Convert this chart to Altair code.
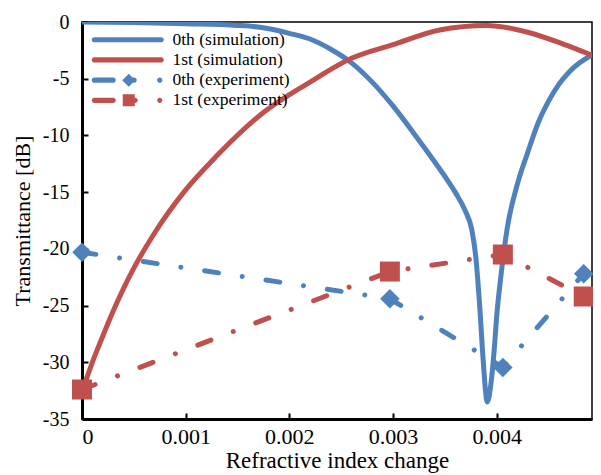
import altair as alt
import pandas as pd

# ---------------- data ----------------
series = ["0th (simulation)", "1st (simulation)", "0th (experiment)", "1st (experiment)"]

sim0_x = [0, 0.0005, 0.001, 0.0015, 0.0017, 0.002, 0.0022, 0.0024, 0.0026, 0.0028,
          0.003, 0.0032, 0.0034, 0.0035, 0.0036, 0.0037, 0.00376, 0.0038,
          0.00384, 0.00387, 0.00391, 0.00395, 0.00398, 0.0040, 0.00404, 0.0041,
          0.0042, 0.0043, 0.0044, 0.0045, 0.0046, 0.0047, 0.0048, 0.0049, 0.005]
sim0_y = [0, -0.05, -0.15, -0.3, -0.45, -1.0, -1.5, -2.4, -3.6, -5.3,
          -7.4, -9.8, -12.3, -13.6, -15.0, -16.7, -18.3, -20.8,
          -25.5, -29.8, -33.5, -31.5, -28.5, -26.0, -22.5, -18.3,
          -14.3, -11.5, -8.9, -7.0, -5.5, -4.4, -3.6, -3.0, -2.5]

sim1_x = [0, 0.0001, 0.0002, 0.0003, 0.0004, 0.0005, 0.0007, 0.001, 0.0013,
          0.00172, 0.0022, 0.0026, 0.003, 0.00345, 0.0039, 0.0043, 0.0046,
          0.0048, 0.005]
sim1_y = [-32.6, -30.0, -27.7, -25.5, -23.5, -21.7, -18.6, -14.8, -11.8,
          -8.2, -5.3, -3.2, -2.0, -0.7, -0.3, -0.9, -1.8,
          -2.5, -3.2]

exp_x = [0, 0.00297, 0.00406, 0.00484]
exp0_y = [-20.3, -24.4, -30.45, -22.2]
exp1_y = [-32.4, -22.0, -20.5, -24.2]

x_ticks = [0, 0.001, 0.002, 0.003, 0.004]
y_ticks = [-35, -30, -25, -20, -15, -10, -5, 0]

BLUE = "#4F81BD"
RED = "#C0504D"
FONT = "'Liberation Serif', 'Times New Roman', Times, serif"
W, H = 510, 397

sim0 = pd.DataFrame({"x": sim0_x, "y": sim0_y})
sim1 = pd.DataFrame({"x": sim1_x, "y": sim1_y})
exp0 = pd.DataFrame({"x": exp_x, "y": exp0_y})
exp1 = pd.DataFrame({"x": exp_x, "y": exp1_y})
leg = pd.DataFrame({"series": series})

xs = alt.Scale(domain=[0, 0.00492], nice=False, zero=False)
ys = alt.Scale(domain=[-35, 0], nice=False, zero=False)

main_x_axis = alt.Axis(
    values=x_ticks,
    labelExpr="datum.value == 0 ? '0' : format(datum.value, '.3f')",
    title="Refractive index change", grid=False, ticks=False, tickSize=0,
    domainColor="black", domainWidth=3, labelPadding=7,
    labelFont=FONT, labelFontSize=22, labelColor="black",
    titleFont=FONT, titleFontSize=23, titleFontWeight="normal",
    titleColor="black", titlePadding=2,
)
main_y_axis = alt.Axis(
    values=y_ticks, labelExpr="'' + datum.value",
    title="Transmittance [dB]", grid=False, ticks=False, tickSize=0,
    domainColor="black", domainWidth=3, labelPadding=13,
    labelFont=FONT, labelFontSize=20, labelColor="black",
    titleFont=FONT, titleFontSize=22, titleFontWeight="normal",
    titleColor="black", titlePadding=8,
)
tick_x_axis = alt.Axis(
    orient="top", offset=-H, values=x_ticks, labels=False, domain=False,
    grid=False, title=None, tickSize=6, tickWidth=2, tickColor="black",
)
tick_y_axis = alt.Axis(
    orient="right", offset=-W, values=y_ticks, labels=False, domain=False,
    grid=False, title=None, tickSize=6, tickWidth=2, tickColor="black",
)

sim0_line = alt.Chart(sim0).mark_line(
    color=BLUE, strokeWidth=5, interpolate="monotone", clip=True
).encode(
    x=alt.X("x:Q", scale=xs, axis=main_x_axis),
    y=alt.Y("y:Q", scale=ys, axis=main_y_axis),
)
sim1_line = alt.Chart(sim1).mark_line(
    color=RED, strokeWidth=5, interpolate="monotone", clip=True
).encode(
    x=alt.X("x:Q", scale=xs, axis=tick_x_axis),
    y=alt.Y("y:Q", scale=ys, axis=tick_y_axis),
)

DASH = [14, 24, 0.01, 24]


def exp_line(df, color):
    return alt.Chart(df).mark_line(
        color=color, strokeWidth=5, strokeDash=DASH, strokeCap="round"
    ).encode(
        x=alt.X("x:Q", scale=xs, axis=None),
        y=alt.Y("y:Q", scale=ys, axis=None),
    )


def exp_pts(df, color, shape, size):
    return alt.Chart(df).mark_point(
        color=color, filled=True, shape=shape, size=size, opacity=1, strokeWidth=0
    ).encode(
        x=alt.X("x:Q", scale=xs, axis=None),
        y=alt.Y("y:Q", scale=ys, axis=None),
    )


# ---------------- legend symbols (custom svg paths) ----------------
K = 5.0   # px per path unit for symbolSize 100
C = 5.0   # symbol centre offset inside the legend (px)


def u(px):
    return f"{(px - C) / K:.3f}"


def uy(py):
    return f"{py / K:.3f}"


def pill(x0, x1, h):
    r = h / K
    return (f"M{u(x0)},{uy(-h)} L{u(x1)},{uy(-h)} A{r:.3f},{r:.3f} 0 0 1 {u(x1)},{uy(h)} "
            f"L{u(x0)},{uy(h)} A{r:.3f},{r:.3f} 0 0 1 {u(x0)},{uy(-h)} Z")


def dot(cx, r):
    rr = r / K
    return (f"M{u(cx - r)},0 A{rr:.3f},{rr:.3f} 0 1 0 {u(cx + r)},0 "
            f"A{rr:.3f},{rr:.3f} 0 1 0 {u(cx - r)},0 Z")


def diamond(cx, r):
    return f"M{u(cx - r)},0 L{u(cx)},{uy(-r)} L{u(cx + r)},0 L{u(cx)},{uy(r)} Z"


def square(cx, r):
    return f"M{u(cx - r)},{uy(-r)} L{u(cx + r)},{uy(-r)} L{u(cx + r)},{uy(r)} L{u(cx - r)},{uy(r)} Z"


HW = 2.6
sim_path = pill(HW, 72 - HW, HW)
exp0_path = " ".join([pill(HW, 24 - HW, HW), diamond(37, 6.5), pill(37, 45 - HW, HW), dot(68, 2.6)])
exp1_path = " ".join([pill(HW, 24 - HW, HW), square(37, 6), pill(37, 46 - HW, HW), dot(68, 2.6)])

legend = alt.Legend(
    title=None, orient="none", legendX=6, legendY=9, padding=0,
    labelFont=FONT, labelFontSize=17.5, labelColor="black", labelOffset=67,
    symbolSize=100, symbolStrokeWidth=0, rowPadding=1.2, symbolOpacity=1,
)
legend_layer = alt.Chart(leg).mark_point(filled=True, opacity=1, size=100).encode(
    color=alt.Color("series:N", scale=alt.Scale(domain=series, range=[BLUE, RED, BLUE, RED]),
                    legend=legend, sort=series),
    shape=alt.Shape("series:N", scale=alt.Scale(domain=series,
                    range=[sim_path, sim_path, exp0_path, exp1_path]),
                    legend=legend, sort=series),
).transform_filter("false")

chart = alt.layer(
    sim0_line, sim1_line,
    exp_line(exp0, BLUE), exp_line(exp1, RED),
    exp_pts(exp0, BLUE, "diamond", 380), exp_pts(exp1, RED, "square", 400),
    legend_layer,
).resolve_axis(x="independent", y="independent").properties(
    width=W, height=H,
    autosize=alt.AutoSizeParams(type="none"),
    padding={"left": 74, "top": 14, "right": 1, "bottom": 54},
    background="white",
).configure_view(stroke="black", strokeWidth=1.5)

chart.save("out.html", embed_options={"renderer": "svg", "actions": False})
